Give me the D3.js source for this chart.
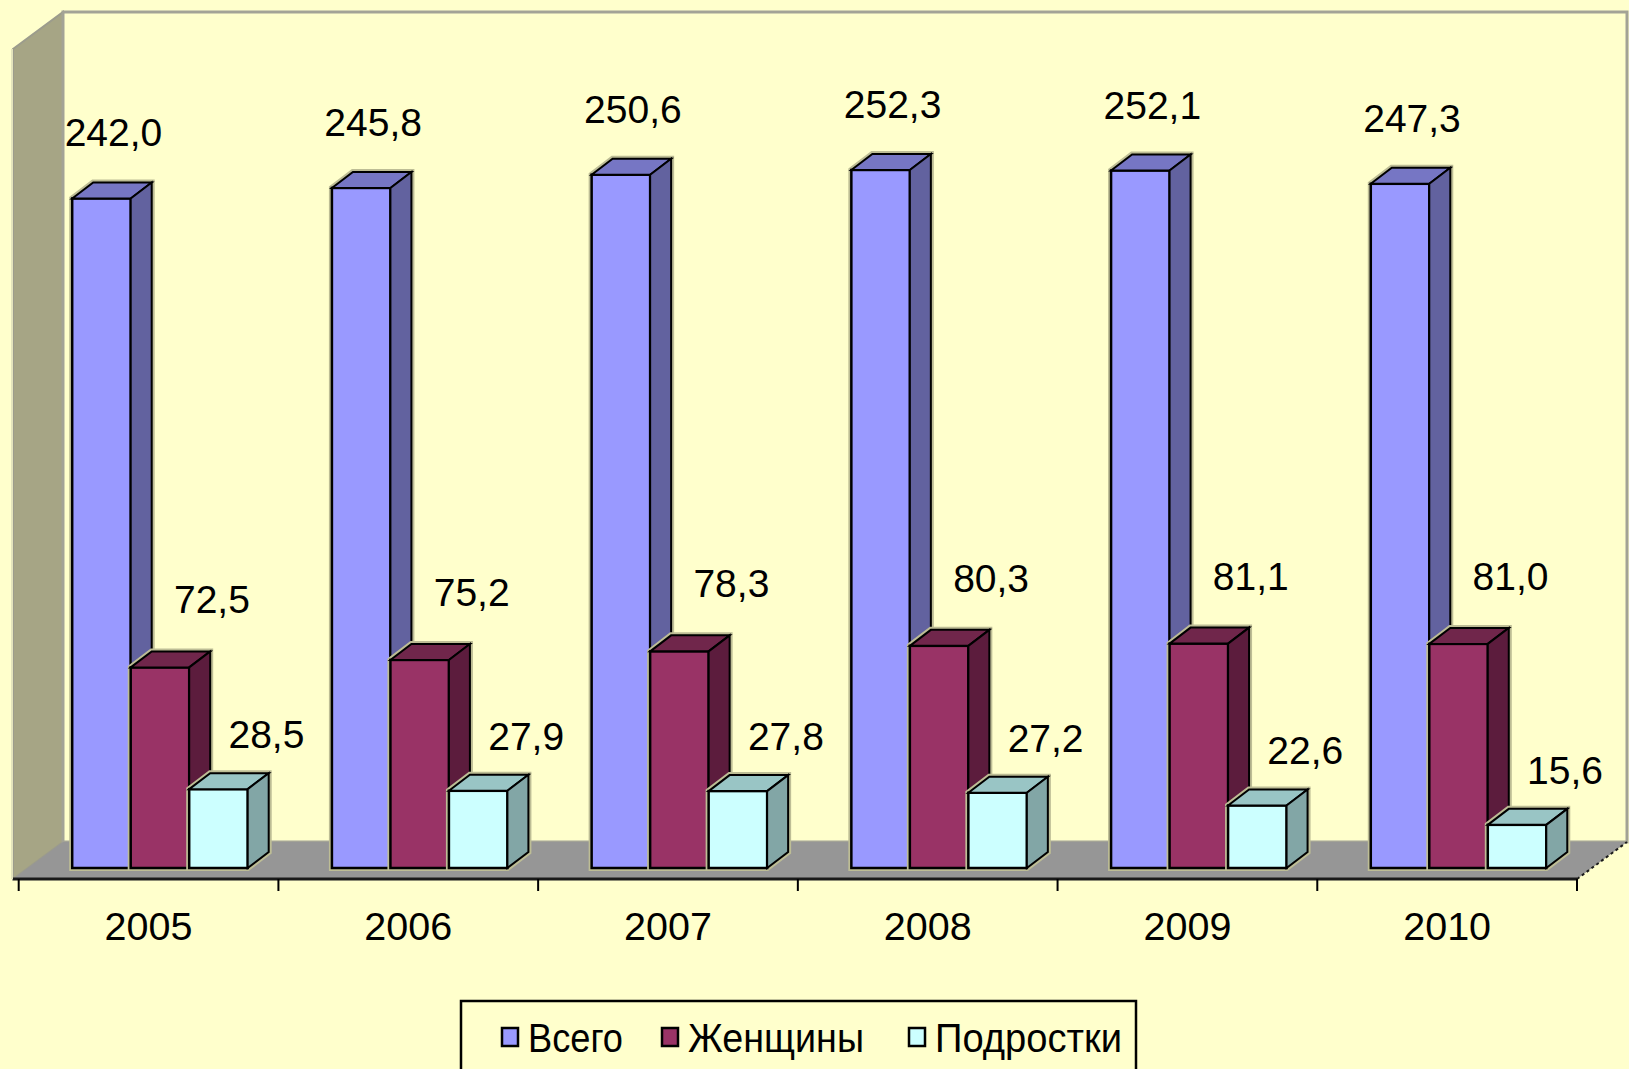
<!DOCTYPE html>
<html>
<head>
  <meta charset="utf-8"/>
  <title>3D bars</title>
  <style>
    body { margin: 0; background: #ffffcc; }
    text { font-family: Arial, "Liberation Sans", sans-serif; }
  </style>
  <script src="https://d3js.org/d3.v7.min.js"></script>
</head>
<body>
<div id="chart"></div>
<script>
// data
var years = ["2005", "2006", "2007", "2008", "2009", "2010"]
var series = ["Всего", "Женщины", "Подростки"]
var total = [242.0, 245.8, 250.6, 252.3, 252.1, 247.3]
var women = [72.5, 75.2, 78.3, 80.3, 81.1, 81.0]
var teens = [28.5, 27.9, 27.8, 27.2, 22.6, 15.6]
var values = [total, women, teens]

// colours: front, top, side
var faces = [
  ["#9999ff", "#7676c4", "#62629f"],
  ["#993366", "#70264b", "#5c1c3d"],
  ["#ccffff", "#99c5c5", "#82a6a6"]
]

var width = 1629, height = 1069
var svg = d3.select("#chart").append("svg")
    .attr("width", width)
    .attr("height", height)

svg.append("rect").attr("width", width).attr("height", height).attr("fill", "#ffffcc")

var fmt = function(v) { return v.toFixed(1).replace(".", ",") }

// front plane of floor
var floorY = 879, depthX = 50, depthY = 37
var x = d3.scaleBand().domain(years).range([18.7, 1577])
var h = d3.scaleLinear().domain([0, 300]).range([0, 830])

// walls
var backL = 13 + depthX, backB = floorY - depthY
svg.append("polygon")
    .attr("points", [[13, floorY - h(300)], [backL, backB - h(300)], [backL, backB], [13, floorY]].join(" "))
    .attr("fill", "#a6a585")
    .attr("stroke", "#9c9c8c").attr("stroke-width", 2)
svg.append("line")
    .attr("x1", 12).attr("x2", 12).attr("y1", floorY - h(300)).attr("y2", floorY)
    .attr("stroke", "#e4e4bc").attr("stroke-width", 2)
svg.append("rect")
    .attr("x", backL).attr("y", backB - h(300))
    .attr("width", 1577 + depthX - backL).attr("height", h(300))
    .attr("fill", "#ffffcc")
    .attr("stroke", "#a3a396").attr("stroke-width", 3)

// floor
svg.append("polygon")
    .attr("points", [[13, floorY], [1577, floorY], [1577 + depthX, backB], [backL, backB]].join(" "))
    .attr("fill", "#969696")
svg.append("line")
    .attr("x1", 13).attr("x2", 1577).attr("y1", floorY).attr("y2", floorY)
    .attr("stroke", "#1a1a1a").attr("stroke-width", 3)
svg.append("line")
    .attr("x1", 1577).attr("x2", 1577 + depthX).attr("y1", floorY).attr("y2", backB)
    .attr("stroke", "#1a1a1a").attr("stroke-width", 2).attr("stroke-dasharray", "3,3")

// ticks at band edges
var edges = years.map(function(d) { return x(d) }).concat([x.range()[1]])
svg.selectAll(".tick").data(edges).enter().append("line")
    .attr("x1", function(d) { return d }).attr("x2", function(d) { return d })
    .attr("y1", floorY).attr("y2", floorY + 12)
    .attr("stroke", "#000").attr("stroke-width", 2)

// year labels
svg.selectAll(".year").data(years).enter().append("text")
    .attr("x", function(d) { return x(d) + x.bandwidth() / 2 })
    .attr("y", 940)
    .attr("text-anchor", "middle")
    .attr("font-size", 39.5)
    .text(function(d) { return d })

// bars
var x1 = d3.scaleBand().domain(series).range([53.5, 229])
var base = 868, bdx = 21, bdy = 16
var labOff = [[12, 52], [52, 54], [48, 41]]

years.forEach(function(yr, i) {
  series.forEach(function(s, j) {
    var v = values[j][i]
    var x0 = x(yr) + x1(s), w = x1.bandwidth()
    var top = base - h(v)
    var g = svg.append("g")
    // soft halo
    g.append("polygon")
      .attr("points", [[x0, base], [x0, top], [x0 + bdx, top - bdy], [x0 + w + bdx, top - bdy], [x0 + w + bdx, base - bdy], [x0 + w, base]].join(" "))
      .attr("fill", "none").attr("stroke", "#bdbd95").attr("stroke-width", 6)
    g.append("rect")
      .attr("x", x0).attr("y", top).attr("width", w).attr("height", h(v))
      .attr("fill", faces[j][0]).attr("stroke", "#000").attr("stroke-width", 2.5)
    g.append("polygon")
      .attr("points", [[x0, top], [x0 + bdx, top - bdy], [x0 + w + bdx, top - bdy], [x0 + w, top]].join(" "))
      .attr("fill", faces[j][1]).attr("stroke", "#000").attr("stroke-width", 2)
    g.append("polygon")
      .attr("points", [[x0 + w, top], [x0 + w + bdx, top - bdy], [x0 + w + bdx, base - bdy], [x0 + w, base]].join(" "))
      .attr("fill", faces[j][2]).attr("stroke", "#000").attr("stroke-width", 2)
    svg.append("text")
      .attr("x", x0 + w / 2 + labOff[j][0])
      .attr("y", top - labOff[j][1])
      .attr("text-anchor", "middle")
      .attr("font-size", 39)
      .text(fmt(v))
  })
})

// legend
var leg = svg.append("g")
leg.append("rect")
    .attr("x", 461).attr("y", 1001).attr("width", 675).attr("height", 100)
    .attr("fill", "#ffffcc").attr("stroke", "#000").attr("stroke-width", 2.5)
var legX = [502, 662, 909], legW = [95, 176, 187]
series.forEach(function(s, j) {
  leg.append("rect")
    .attr("x", legX[j]).attr("y", 1028).attr("width", 16).attr("height", 18)
    .attr("fill", faces[j][0]).attr("stroke", "#000").attr("stroke-width", 2.5)
  leg.append("text")
    .attr("x", legX[j] + 26).attr("y", 1052)
    .attr("font-size", 40)
    .attr("textLength", legW[j]).attr("lengthAdjust", "spacingAndGlyphs")
    .text(s)
})
</script>
</body>
</html>
